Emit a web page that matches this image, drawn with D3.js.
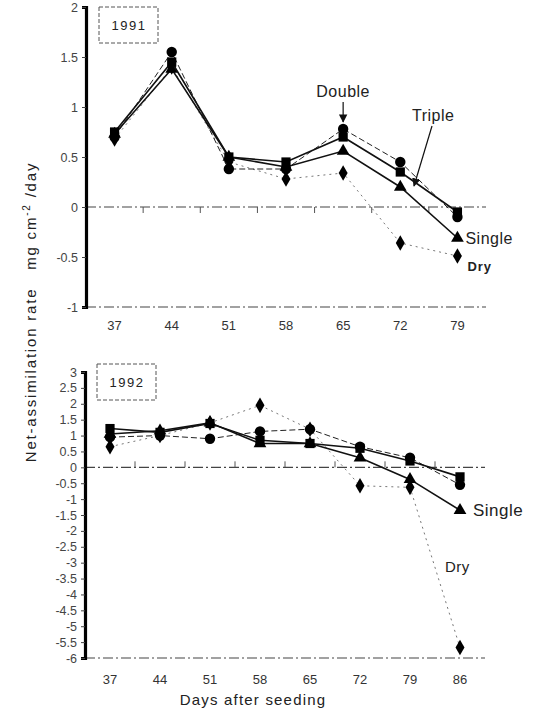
<!DOCTYPE html>
<html lang='en'>
<head>
  <meta charset='UTF-8'>
  <title>Net-assimilation rate</title>
  <style>
    body { margin: 0; background: #fff; }
    text { font-family: 'Liberation Sans', Arial, sans-serif; }
  </style>
</head>
<body>
  <script src='https://cdn.jsdelivr.net/npm/d3@7/dist/d3.min.js'></script>
  <script>
// data
const days1991 = ['37', '44', '51', '58', '65', '72', '79'];
const days1992 = ['37', '44', '51', '58', '65', '72', '79', '86'];

const circle1991   = [0.70, 1.55, 0.38, 0.38, 0.78, 0.45, -0.10];
const square1991   = [0.75, 1.45, 0.50, 0.45, 0.70, 0.35, -0.05];
const triangle1991 = [0.73, 1.38, 0.50, 0.40, 0.56, 0.20, -0.31];
const diamond1991  = [0.68, 1.40, 0.45, 0.28, 0.34, -0.36, -0.49];

const circle1992   = [0.95, 1.00, 0.90, 1.13, 1.20, 0.65, 0.30, -0.55];
const square1992   = [1.22, 1.10, 1.38, 0.85, 0.75, 0.60, 0.20, -0.30];
const triangle1992 = [1.05, 1.15, 1.40, 0.75, 0.75, 0.30, -0.38, -1.35];
const diamond1992  = [0.65, 1.00, 1.40, 1.95, 1.20, -0.58, -0.63, -5.67];

const ticks1991 = [-1, -0.5, 0, 0.5, 1, 1.5, 2];
const ticks1992 = [-6, -5.5, -5, -4.5, -4, -3.5, -3, -2.5, -2, -1.5, -1, -0.5, 0, 0.5, 1, 1.5, 2, 2.5, 3];

const width = 536;
const height = 711;

const svg = d3.select('body').append('svg')
    .attr('width', width)
    .attr('height', height);

// line styles per series
const styles = {
  circle:   { symbol: d3.symbolCircle,   size: 85, dash: '6,3',  stroke: '#222', sw: 1 },
  square:   { symbol: d3.symbolSquare,   size: 85, dash: null,   stroke: '#111', sw: 1.6 },
  triangle: { symbol: d3.symbolTriangle, size: 70, dash: null,   stroke: '#111', sw: 1.6 },
  diamond:  { symbol: d3.symbolDiamond,  size: 70, dash: '2,4',  stroke: '#777', sw: 1 }
};

function panel(cfg) {
  const x = d3.scaleBand().domain(cfg.days).range(cfg.xr);
  const y = d3.scaleLinear().domain(cfg.yd).range(cfg.yr);
  const cx = d => x(d) + x.bandwidth() / 2;
  const g = svg.append('g');

  // zero line and bottom line, dash-dotted
  [0, cfg.yd[0]].forEach(v => {
    g.append('line')
      .attr('x1', cfg.xr[0]).attr('x2', cfg.xr[1])
      .attr('y1', y(v)).attr('y2', y(v))
      .attr('stroke', '#444').attr('stroke-width', 1.2)
      .attr('stroke-dasharray', '10,3,2,3');
  });

  // small ticks on the zero line between categories
  g.selectAll('.xt').data(cfg.days.slice(1)).enter().append('line')
    .attr('x1', d => x(d)).attr('x2', d => x(d))
    .attr('y1', y(0)).attr('y2', y(0) + cfg.tickDir * 6)
    .attr('stroke', '#555').attr('stroke-width', 1);

  // y axis
  const ya = g.append('g')
    .attr('transform', 'translate(' + cfg.xr[0] + ',0)')
    .call(d3.axisLeft(y).tickValues(cfg.ticks).tickSize(4).tickFormat(d => String(d)));
  ya.select('.domain').attr('stroke', '#000').attr('stroke-width', 3.2);
  ya.selectAll('.tick line').attr('stroke', '#444');
  ya.selectAll('.tick text').attr('fill', '#444').attr('font-size', 12.5).attr('dx', '-1');

  // x labels
  const xa = g.append('g')
    .attr('transform', 'translate(0,' + cfg.labelY + ')')
    .call(d3.axisBottom(x).tickSize(0));
  xa.select('.domain').remove();
  xa.selectAll('.tick text').attr('fill', '#333').attr('font-size', 13);

  // series
  const line = d3.line().x(d => cx(d.day)).y(d => y(d.v));
  cfg.series.forEach(s => {
    const st = styles[s.kind];
    const pts = cfg.days.map((d, i) => ({ day: d, v: s.values[i] }));
    g.append('path')
      .datum(pts)
      .attr('d', line)
      .attr('fill', 'none')
      .attr('stroke', st.stroke)
      .attr('stroke-width', st.sw)
      .attr('stroke-dasharray', st.dash);
    g.selectAll('.m-' + s.kind).data(pts).enter().append('path')
      .attr('transform', d => 'translate(' + cx(d.day) + ',' + y(d.v) + ')')
      .attr('d', d3.symbol().type(st.symbol).size(st.size))
      .attr('fill', '#000');
  });

  // year box
  g.append('rect')
    .attr('x', cfg.box[0]).attr('y', cfg.box[1])
    .attr('width', 59).attr('height', 36)
    .attr('fill', 'none').attr('stroke', '#555')
    .attr('stroke-width', 1).attr('stroke-dasharray', '4,2');
  g.append('text')
    .attr('x', cfg.box[0] + 30).attr('y', cfg.box[1] + 23)
    .attr('text-anchor', 'middle')
    .attr('font-size', 13).attr('letter-spacing', 1.5)
    .attr('fill', '#222')
    .text(cfg.year);

  return { x: x, y: y, cx: cx, g: g };
}

const p91 = panel({
  days: days1991, xr: [86, 486], yd: [-1, 2], yr: [307, 7],
  ticks: ticks1991, labelY: 318, tickDir: 1, year: '1991', box: [99, 7],
  series: [
    { kind: 'diamond', values: diamond1991 },
    { kind: 'circle', values: circle1991 },
    { kind: 'triangle', values: triangle1991 },
    { kind: 'square', values: square1991 }
  ]
});

const p92 = panel({
  days: days1992, xr: [85, 485], yd: [-6, 3], yr: [658, 372],
  ticks: ticks1992, labelY: 672, tickDir: -1, year: '1992', box: [97, 364],
  series: [
    { kind: 'diamond', values: diamond1992 },
    { kind: 'circle', values: circle1992 },
    { kind: 'triangle', values: triangle1992 },
    { kind: 'square', values: square1992 }
  ]
});

// annotations, 1991
const ann = svg.append('g').attr('fill', '#222');
svg.append('defs').append('marker')
    .attr('id', 'head').attr('viewBox', '0 0 10 10')
    .attr('refX', 9).attr('refY', 5)
    .attr('markerWidth', 7).attr('markerHeight', 9)
    .attr('orient', 'auto')
  .append('path').attr('d', 'M0,0 L10,5 L0,10 Z').attr('fill', '#111');

ann.append('text')
  .attr('x', p91.cx('65')).attr('y', 97)
  .attr('text-anchor', 'middle').attr('font-size', 16).attr('letter-spacing', 0.5)
  .text('Double');
svg.append('line')
  .attr('x1', p91.cx('65')).attr('y1', 102)
  .attr('x2', p91.cx('65')).attr('y2', 122)
  .attr('stroke', '#111').attr('stroke-width', 1.2)
  .attr('marker-end', 'url(#head)');

ann.append('text')
  .attr('x', 412).attr('y', 121)
  .attr('font-size', 16).attr('letter-spacing', 0.5)
  .text('Triple');
svg.append('line')
  .attr('x1', 432).attr('y1', 126)
  .attr('x2', 414).attr('y2', 186)
  .attr('stroke', '#111').attr('stroke-width', 1.2)
  .attr('marker-end', 'url(#head)');

ann.append('text')
  .attr('x', p91.cx('79') + 8).attr('y', p91.y(-0.31) + 6)
  .attr('font-size', 16).attr('letter-spacing', 0.5)
  .text('Single');
ann.append('text')
  .attr('x', p91.cx('79') + 10).attr('y', p91.y(-0.49) + 15)
  .attr('font-size', 13).attr('font-weight', 'bold').attr('letter-spacing', 1)
  .text('Dry');

// annotations, 1992
ann.append('text')
  .attr('x', p92.cx('86') + 13).attr('y', p92.y(-1.35) + 6)
  .attr('font-size', 17).attr('letter-spacing', 0.5)
  .text('Single');
ann.append('text')
  .attr('x', 445).attr('y', 572)
  .attr('font-size', 15).attr('letter-spacing', 0.5)
  .text('Dry');

// axis titles
const yt = svg.append('text')
  .attr('transform', 'translate(36,312) rotate(-90)')
  .attr('text-anchor', 'middle')
  .attr('font-size', 15).attr('letter-spacing', 1.8)
  .attr('fill', '#222')
  .style('white-space', 'pre');
yt.append('tspan').text('Net-assimilation rate   mg cm');
yt.append('tspan').attr('font-size', 10).attr('dy', -6).text('-2');
yt.append('tspan').attr('dy', 6).text(' /day');

svg.append('text')
  .attr('x', 253).attr('y', 705)
  .attr('text-anchor', 'middle')
  .attr('font-size', 15).attr('letter-spacing', 1.2)
  .attr('fill', '#222')
  .text('Days after seeding');
  </script>
</body>
</html>
